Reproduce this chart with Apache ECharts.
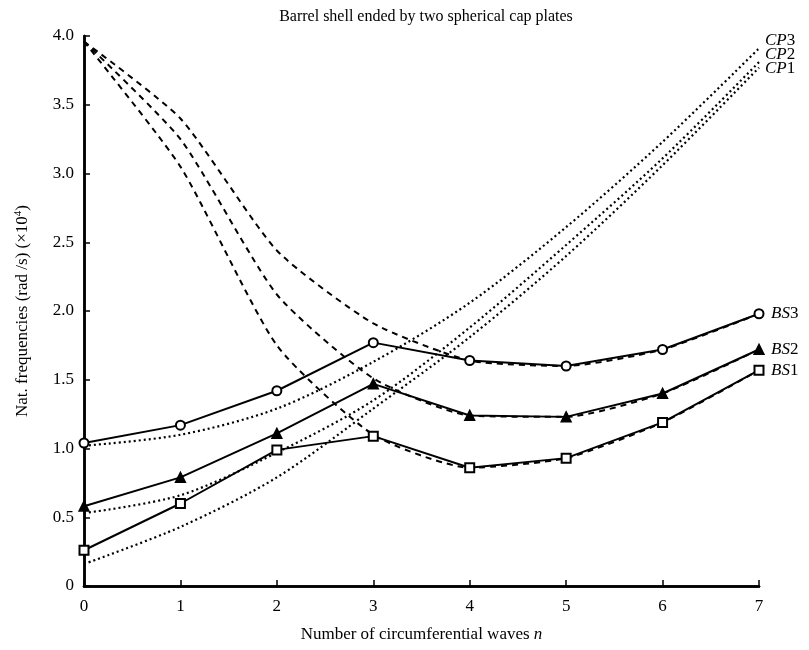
<!DOCTYPE html>
<html>
<head>
<meta charset="utf-8">
<script src="https://cdn.jsdelivr.net/npm/echarts@6/dist/echarts.min.js"></script>
<style>
  html, body { margin: 0; padding: 0; background: #fff; }
  #main { width: 809px; height: 650px; }
</style>
</head>
<body>
<div id="main"></div>
<script>
// circumferential wave numbers
var nWaves = [0, 1, 2, 3, 4, 5, 6, 7];
var yTicks = [0, 0.5, 1.0, 1.5, 2.0, 2.5, 3.0, 3.5, 4.0];

// barrel shell modes (solid, markers)
var bs1 = [0.26, 0.60, 0.99, 1.09, 0.86, 0.93, 1.19, 1.57];
var bs2 = [0.58, 0.79, 1.11, 1.47, 1.24, 1.23, 1.40, 1.72];
var bs3 = [1.04, 1.17, 1.42, 1.77, 1.64, 1.60, 1.72, 1.98];

// dashed curves
var dash1 = [3.96, 3.05, 1.75, 1.10, 0.86, 0.93, 1.19, 1.57];
var dash2 = [3.96, 3.25, 2.12, 1.51, 1.24, 1.23, 1.40, 1.72];
var dash3 = [3.96, 3.40, 2.44, 1.91, 1.64, 1.60, 1.72, 1.98];

// dotted curves (cap plate modes)
var cp1 = [0.16, 0.43, 0.79, 1.29, 1.81, 2.40, 3.06, 3.77];
var cp2 = [0.53, 0.66, 0.97, 1.35, 1.88, 2.48, 3.11, 3.81];
var cp3 = [1.02, 1.10, 1.29, 1.63, 2.06, 2.61, 3.23, 3.91];

var FONT = '"Liberation Serif", "DejaVu Serif", serif';

function pairs(arr) {
    var out = [];
    for (var i = 0; i < nWaves.length; i++) out.push([nWaves[i], arr[i]]);
    return out;
}

function endTag(name, num, dy, dist) {
    return {
        show: true,
        formatter: '{i|' + name + '}' + num,
        color: '#000',
        fontFamily: FONT,
        fontSize: 17,
        distance: dist,
        offset: [0, dy],
        rich: { i: { fontStyle: 'italic', fontFamily: FONT, fontSize: 17, color: '#000' } }
    };
}

function solid(data, symbol, name, dy) {
    return {
        type: 'line', data: pairs(data), z: 5,
        symbol: symbol, symbolSize: 9,
        itemStyle: { color: '#000', borderColor: '#000', borderWidth: 2 },
        lineStyle: { color: '#000', width: 2 },
        endLabel: endTag(name.slice(0, 2), name.slice(2), dy, 12),
        animation: false
    };
}

function dashed(data) {
    return {
        type: 'line', data: pairs(data), z: 3, smooth: 0.2,
        symbol: 'none',
        lineStyle: { color: '#000', width: 2, type: [6, 5] },
        animation: false
    };
}

function dotted(data, name, dy) {
    return {
        type: 'line', data: pairs(data), z: 2, smooth: 0.3,
        symbol: 'none',
        lineStyle: { color: '#000', width: 2.2, type: [2, 3] },
        endLabel: endTag(name.slice(0, 2), name.slice(2), dy, 6),
        animation: false
    };
}

window.onload = function () {
    var chart = echarts.init(document.getElementById('main'));

    var option = {
        backgroundColor: '#fff',
        title: {
            text: 'Barrel shell ended by two spherical cap plates',
            left: 421, top: 4, textAlign: 'center',
            textStyle: { fontFamily: FONT, fontWeight: 'normal', fontSize: 16, color: '#000' }
        },
        grid: { left: 84, right: 50, top: 36, bottom: 64 },
        xAxis: [{
            type: 'value', min: 0, max: 7, interval: 1,
            name: 'Number of circumferential waves {i|n}',
            nameLocation: 'middle', nameGap: 40,
            nameTextStyle: {
                fontFamily: FONT, fontSize: 17, color: '#000',
                rich: { i: { fontStyle: 'italic', fontFamily: FONT, fontSize: 17, color: '#000' } }
            },
            axisLine: { lineStyle: { color: '#000', width: 2.5 } },
            axisTick: { inside: true, length: 6, lineStyle: { color: '#000', width: 1.5 } },
            axisLabel: { fontFamily: FONT, fontSize: 17, color: '#000', margin: 12 },
            splitLine: { show: false }
        }, {
            type: 'value', min: 0, max: 7, position: 'top',
            axisLine: { show: true, lineStyle: { color: '#000', width: 2.5 } },
            axisTick: { show: false }, axisLabel: { show: false }, splitLine: { show: false }
        }],
        yAxis: [{
            type: 'value', min: 0, max: 4, interval: 0.5,
            name: 'Nat. frequencies (rad /s) (\u00d710{sup|4})',
            nameLocation: 'middle', nameGap: 52, nameRotate: 90,
            nameTextStyle: {
                fontFamily: FONT, fontSize: 17, color: '#000',
                rich: { sup: { fontFamily: FONT, fontSize: 11, color: '#000', verticalAlign: 'top', padding: [0, 0, 8, 0] } }
            },
            axisLine: { lineStyle: { color: '#000', width: 2.5 } },
            axisTick: { inside: true, length: 6, lineStyle: { color: '#000', width: 1.5 } },
            axisLabel: {
                fontFamily: FONT, fontSize: 17, color: '#000', margin: 10,
                formatter: function (v) { return v === 0 ? '0' : v.toFixed(1); }
            },
            splitLine: { show: false }
        }, {
            type: 'value', min: 0, max: 4, position: 'right',
            axisLine: { show: true, lineStyle: { color: '#000', width: 2.5 } },
            axisTick: { show: false }, axisLabel: { show: false }, splitLine: { show: false }
        }],
        series: [
            dotted(cp1, 'CP1', 1),
            dotted(cp2, 'CP2', -8),
            dotted(cp3, 'CP3', -8),
            dashed(dash1),
            dashed(dash2),
            dashed(dash3),
            solid(bs1, 'emptyRect', 'BS1', 0),
            solid(bs2, 'triangle', 'BS2', 0),
            solid(bs3, 'emptyCircle', 'BS3', 0)
        ]
    };

    chart.setOption(option);
};
</script>
</body>
</html>
